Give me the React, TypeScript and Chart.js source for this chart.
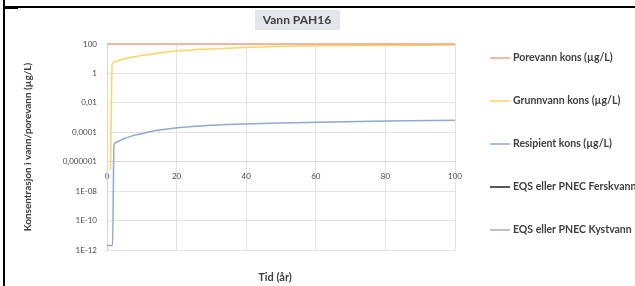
import React, { useEffect, useRef } from "react";
import { Chart, registerables } from "chart.js";

Chart.register(...registerables);

const chartTitle = "Vann PAH16";
const xAxisTitle = "Tid (år)";
const yAxisTitle = "Konsentrasjon i vann/porevann (µg/L)";

const seriesNames = [
  "Porevann kons (µg/L)",
  "Grunnvann kons (µg/L)",
  "Resipient kons (µg/L)",
  "EQS eller PNEC Ferskvann",
  "EQS eller PNEC Kystvann",
];
const seriesColors = ["#f0a08a", "#ffd45e", "#8fa9d0", "#1c1c2c", "#a2acbc"];

const porevannYears = [0, 100];
const porevannValues = [100, 100];

const grunnvannYears = [1, 1.5, 2.5, 3.7, 5.5, 7.5, 11, 17, 25, 36, 55, 75, 100];
const grunnvannValues = [3e-7, 4.4, 6.5, 8.2, 10.5, 13, 18, 29, 40, 53, 73, 80, 85];

const resipientYears = [0, 1.6, 2, 3, 4.6, 7, 9.5, 14, 19, 28, 39, 50, 61, 80, 100];
const resipientValues = [
  2e-12, 2e-12, 1.3e-5, 2.3e-5, 3.5e-5, 5.5e-5, 7.6e-5, 1.3e-4, 1.9e-4, 2.8e-4,
  3.6e-4, 4.3e-4, 4.9e-4, 5.8e-4, 6.7e-4,
];

const eqsFerskvannYears: number[] = [];
const eqsFerskvannValues: number[] = [];
const eqsKystvannYears: number[] = [];
const eqsKystvannValues: number[] = [];

const xTicks = [0, 20, 40, 60, 80, 100];
const xTickLabels = ["0", "20", "40", "60", "80", "100"];
const yTickValues = [1e-12, 1e-10, 1e-8, 1e-6, 1e-4, 1e-2, 1, 100];
const yTickLabels = ["1E-12", "1E-10", "1E-08", "0,000001", "0,0001", "0,01", "1", "100"];

const FONT = "Lato, 'Open Sans', sans-serif";

function pts(xs: number[], ys: number[]) {
  return xs.map((x, i) => ({ x, y: ys[i] }));
}

const decorPlugin = {
  id: "decor",
  afterDraw(chart: any) {
    const ctx = chart.ctx as CanvasRenderingContext2D;
    ctx.save();
    ctx.fillStyle = "#e4e4eb";
    ctx.fillRect(255, 10, 85, 20);
    ctx.font = `bold 12px ${FONT}`;
    ctx.fillStyle = "#404040";
    ctx.textAlign = "center";
    ctx.textBaseline = "middle";
    ctx.fillText(chartTitle, 297, 20);
    ctx.font = `bold 11px ${FONT}`;
    ctx.fillText(xAxisTitle, 275, 277);
    ctx.textAlign = "left";
    ctx.font = `bold 10.5px ${FONT}`;
    chart.data.datasets.forEach((ds: any, i: number) => {
      const y = 58 + i * 43;
      ctx.strokeStyle = ds.borderColor;
      ctx.lineWidth = 1.5;
      ctx.beginPath();
      ctx.moveTo(490, y);
      ctx.lineTo(510, y);
      ctx.stroke();
      ctx.fillStyle = "#404040";
      ctx.fillText(ds.label, 513, y);
    });
    ctx.restore();
  },
};

export default function App() {
  const ref = useRef<HTMLCanvasElement>(null);

  useEffect(() => {
    document.body.style.margin = "0";
    const canvas = ref.current!;
    const seriesData = [
      pts(porevannYears, porevannValues),
      pts(grunnvannYears, grunnvannValues),
      pts(resipientYears, resipientValues),
      pts(eqsFerskvannYears, eqsFerskvannValues),
      pts(eqsKystvannYears, eqsKystvannValues),
    ];
    const chart = new Chart(canvas, {
      type: "scatter",
      data: {
        datasets: seriesData.map((d, i) => ({
          label: seriesNames[i],
          data: d,
          showLine: true,
          borderColor: seriesColors[i],
          backgroundColor: seriesColors[i],
          borderWidth: 1.5,
          pointRadius: 0,
          cubicInterpolationMode: "monotone" as const,
          clip: false as any,
        })),
      },
      plugins: [decorPlugin],
      options: {
        animation: false,
        responsive: false,
        layout: { padding: { left: 0, top: 44, right: 180, bottom: 36 } },
        plugins: {
          legend: { display: false },
          title: { display: false },
          tooltip: { enabled: false },
        },
        scales: {
          x: {
            type: "linear",
            min: 0,
            max: 100,
            position: { y: 1e-6 } as any,
            afterBuildTicks: (s: any) => {
              s.ticks = xTicks.map((v) => ({ value: v }));
            },
            ticks: {
              font: { family: FONT, size: 8 },
              color: "#4a4a4a",
              padding: 10,
              maxRotation: 0,
              autoSkip: false,
              callback: (_v: any, idx: number) => xTickLabels[idx],
            },
            grid: { color: "#e3e3e3", drawTicks: false, lineWidth: 1 },
            border: { color: "#d9d9d9" },
          },
          y: {
            type: "logarithmic",
            min: 1e-12,
            max: 100,
            afterBuildTicks: (s: any) => {
              s.ticks = yTickValues.map((v) => ({ value: v }));
            },
            afterFit: (s: any) => {
              s.width = 107;
            },
            ticks: {
              font: { family: FONT, size: 8 },
              color: "#4a4a4a",
              padding: 10,
              autoSkip: false,
              callback: (_v: any, idx: number) => yTickLabels[idx],
            },
            grid: { color: "#e3e3e3", drawTicks: false, lineWidth: 1 },
            border: { color: "#d9d9d9" },
            title: {
              display: true,
              text: yAxisTitle,
              color: "#404040",
              font: { family: FONT, size: 10, weight: "bold" },
              padding: { top: 22, bottom: 0 },
            },
          },
        },
      },
    });
    return () => chart.destroy();
  }, []);

  return (
    <div style={{ position: "relative", width: 635, height: 286, overflow: "hidden", background: "#fff" }}>
      <canvas ref={ref} width={635} height={286} style={{ position: "absolute", left: 0, top: 0 }} />
      <div style={{ position: "absolute", left: 3, top: 0, width: 2, height: 286, background: "#000" }} />
      <div style={{ position: "absolute", left: 3, top: 6, width: 632, height: 2, background: "#000" }} />
      <div style={{ position: "absolute", left: 5, top: 7, width: 13, height: 2, background: "#000" }} />
    </div>
  );
}
